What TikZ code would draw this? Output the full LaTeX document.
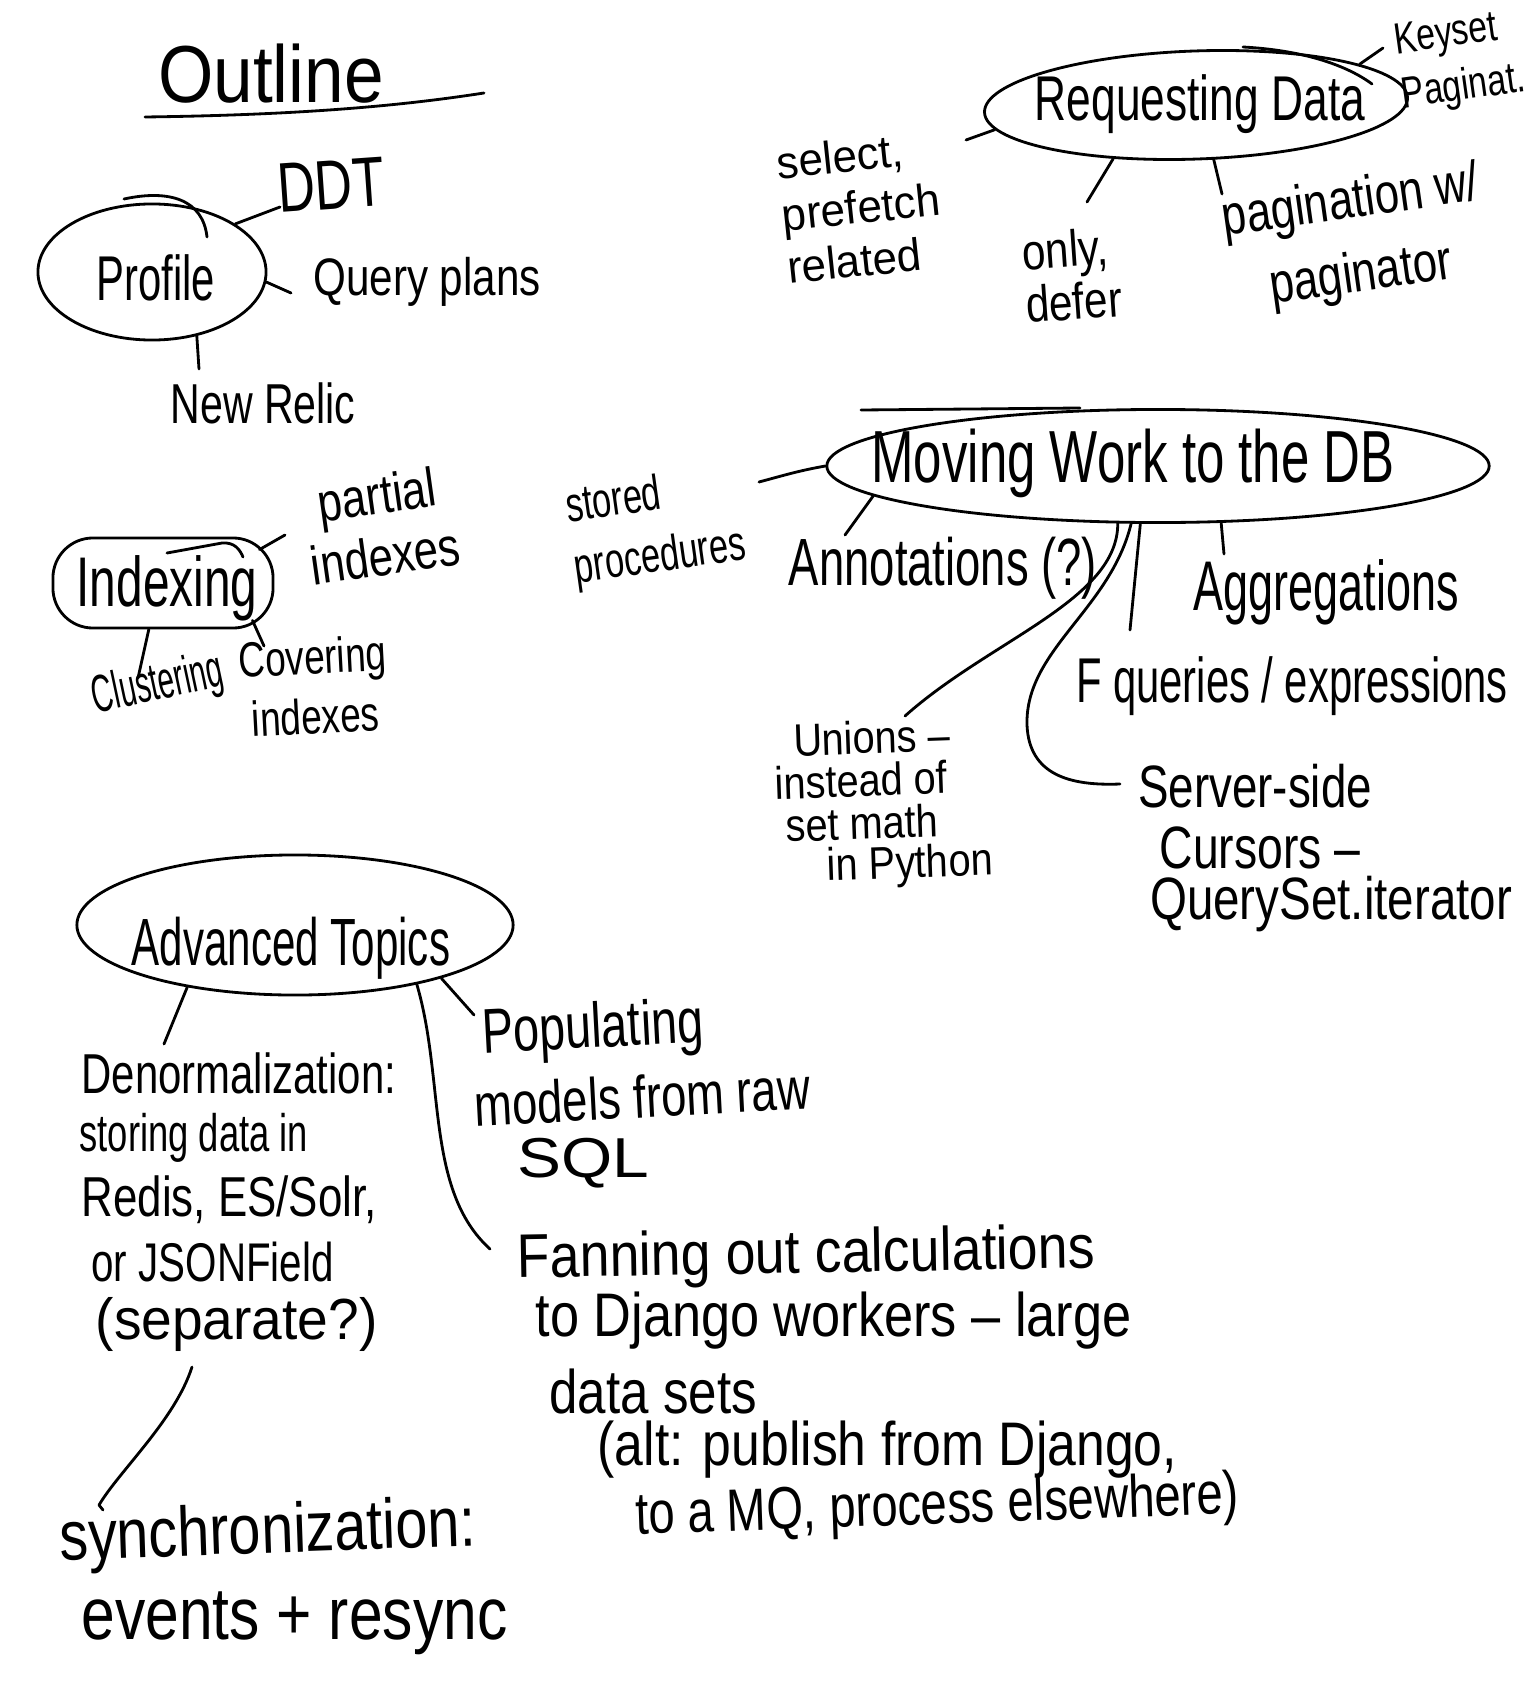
\documentclass[tikz,border=0pt]{standalone}
\usepackage{fontspec}
\setmainfont{Liberation Sans}
\usetikzlibrary{shapes.geometric,calc}
\newcommand\handsz[2]{\fontsize{#1}{#2}\selectfont}
\begin{document}
\begin{tikzpicture}[x=0.01cm,y=-0.01cm,
  ink/.style={line width=0.8pt, line cap=round, line join=round},
  oval/.style={ink, draw, ellipse, inner sep=0pt},
  txt/.style={inner sep=0pt},
]
\fill[white] (0,0) rectangle (1536,1688);
\useasboundingbox (0,0) rectangle (1536,1688);

% ---------- title ----------
\node[txt, font=\handsz{23}{23}, xscale=.88] (title) at (271,74) {Outline};
\draw[ink] (145,117) .. controls (300,115) and (400,106) .. (484,93);

% ---------- Profile ----------
\node[oval, minimum width=2.28cm, minimum height=1.36cm] (profOval) at (152,272) {};
\draw[ink] (124,199) .. controls (170,189) and (203,200) .. (207,237);
\node[txt, font=\handsz{18}{18}, xscale=.66] (profile) at (156,278) {Profile};

\node[txt, font=\handsz{20}{20}, rotate=4, xscale=.74] (ddt) at (331,185) {DDT};
\node[txt, font=\handsz{15}{15}, xscale=.8] (qplans) at (427,282) {Query plans};
\node[txt, font=\handsz{16}{16}, xscale=.73] (newrelic) at (263,403) {New Relic};

\coordinate (ddtEnd) at (280,207);
\coordinate (qpEnd) at (291,293);
\coordinate (nrEnd) at (199,369);
\draw[ink] (profOval.30) -- (ddtEnd);
\draw[ink] (profOval.-5) -- (qpEnd);
\draw[ink] (profOval.-55) -- (nrEnd);

% ---------- Requesting Data ----------
\node[oval, minimum width=4.23cm, minimum height=1.08cm, rotate=2] (reqOval) at (1196,105) {};
\draw[ink] (1243,47) .. controls (1300,50) and (1345,64) .. (1372,84);
\node[txt, font=\handsz{18}{18}, xscale=.70] (reqdata) at (1200,104) {Requesting Data};

\node[txt, align=left, font=\handsz{12.5}{15.5}, rotate=8, xscale=.77] (keyset) at (1460,62) {Keyset\\Paginat.};
\node[txt, align=left, font=\handsz{13}{15}, rotate=6, xscale=.96] (select) at (861,207) {select,\\prefetch\\related};
\node[txt, align=left, font=\handsz{14.5}{15}, rotate=4, xscale=.83] (onlydefer) at (1072,275) {only,\\defer};
\node[txt, align=center, font=\handsz{16}{21}, rotate=8, xscale=.78] (pagin) at (1356,240) {pagination w/\\paginator};

\coordinate (ksEnd) at (1383,48);
\coordinate (selEnd) at (966,140);
\coordinate (odEnd) at (1087,202);
\coordinate (pgEnd) at (1222,194);
\draw[ink] (reqOval.12) -- (ksEnd);
\draw[ink] (reqOval.185) -- (selEnd);
\draw[ink] (reqOval.211) -- (odEnd);
\draw[ink] (reqOval.286) -- (pgEnd);

% ---------- Indexing ----------
\node[ink, draw, rectangle, rounded corners=0.4cm, minimum width=2.2cm, minimum height=0.9cm, inner sep=0pt] (idxOval) at (163,583) {};
\draw[ink] (167,553) -- (222,543) .. controls (235,542) and (240,550) .. (243,557);
\node[txt, font=\handsz{20}{20}, xscale=.68] (indexing) at (167,588) {Indexing};

\node[txt, align=center, font=\handsz{15.5}{17.5}, rotate=8, xscale=.8] (partial) at (381,525) {partial\\indexes};
\node[txt, font=\handsz{15}{15}, rotate=12, xscale=.56] (clustering) at (158,686) {Clustering};
\node[txt, align=center, font=\handsz{14}{17}, rotate=3, xscale=.75] (covering) at (314,686) {Covering\\indexes};

\coordinate (ptEnd) at (285,535);
\coordinate (clEnd) at (138,678);
\coordinate (cvEnd) at (264,646);
\draw[ink] ($(idxOval.north east)+(-15,13)$) -- (ptEnd);
\draw[ink] (idxOval.253) -- (clEnd);
\draw[ink] ($(idxOval.south east)+(-22,-9)$) -- (cvEnd);

% ---------- Moving Work to the DB ----------
\node[oval, minimum width=6.62cm, minimum height=1.13cm] (mwOval) at (1158,466) {};
\draw[ink] (861,410) -- (1080,408);
\node[txt, font=\handsz{21}{21}, xscale=.69] (moving) at (1133,463) {Moving Work to the DB};

\node[txt, align=left, font=\handsz{14}{17.5}, rotate=8, xscale=.7] (stored) at (656,528) {stored\\procedures};
\node[txt, font=\handsz{19}{19}, xscale=.68] (annot) at (943,568) {Annotations (?)};
\node[txt, font=\handsz{20}{20}, xscale=.64] (aggr) at (1326,592) {Aggregations};
\node[txt, font=\handsz{18}{18}, xscale=.66] (fq) at (1292,686) {F queries / expressions};

\node[txt, font=\handsz{13}{13}, rotate=2, xscale=.87] (un1) at (872,737) {Unions --};
\node[txt, font=\handsz{13}{13}, rotate=2, xscale=.87] (un2) at (861,780) {instead of};
\node[txt, font=\handsz{13}{13}, rotate=2, xscale=.87] (un3) at (862,823) {set math};
\node[txt, font=\handsz{13}{13}, rotate=2, xscale=.87] (un4) at (910,866) {in Python};

\node[txt, font=\handsz{17}{17}, xscale=.765] (sv1) at (1255,786) {Server-side};
\node[txt, font=\handsz{17}{17}, xscale=.775] (sv2) at (1260,848) {Cursors --};
\node[txt, font=\handsz{17}{17}, xscale=.795] (sv3) at (1331,904) {QuerySet.iterator};

\coordinate (spEnd) at (759,482);
\coordinate (anEnd) at (845,535);
\coordinate (agEnd) at (1224,554);
\coordinate (fqEnd) at (1130,630);
\coordinate (unEnd) at (905,716);
\coordinate (svEnd) at (1120,784);
\draw[ink] (mwOval.west) to[out=190, in=15] (spEnd);
\draw[ink] (mwOval.186) -- (anEnd);
\draw[ink] (mwOval.318) -- (agEnd);
\draw[ink] (mwOval.253) -- (fqEnd);
\draw[ink] (mwOval.235) .. controls (1118,600) and (990,640) .. (unEnd);
\draw[ink] (mwOval.245) .. controls (1110,610) and (1025,650) .. (1027,725)
           .. controls (1029,775) and (1070,786) .. (svEnd);

% ---------- Advanced Topics ----------
\node[oval, minimum width=4.36cm, minimum height=1.40cm] (atOval) at (295,925) {};
\node[txt, font=\handsz{19}{19}, xscale=.63] (adv) at (291,948) {Advanced Topics};

\node[txt, anchor=west, font=\handsz{16}{16}, xscale=.745] (dn1) at (81,1073) {Denormalization:};
\node[txt, anchor=west, font=\handsz{15}{15}, xscale=.69] (dn2) at (79,1138) {storing data in};
\node[txt, anchor=west, font=\handsz{16}{16}, xscale=.78] (dn3) at (81,1200) {Redis, ES/Solr,};
\node[txt, anchor=west, font=\handsz{15.5}{15.5}, xscale=.74] (dn4) at (91,1262) {or JSONField};
\node[txt, anchor=west, font=\handsz{16.5}{16.5}, xscale=.95] (dn5) at (95,1324) {(separate?)};

\node[txt, anchor=west, font=\handsz{18}{18}, rotate=3, xscale=.74] (pop1) at (482,1037) {Populating};
\node[txt, anchor=west, font=\handsz{17}{17}, rotate=3, xscale=.76] (pop2) at (474,1105) {models from raw};
\node[txt, anchor=west, font=\handsz{16}{16}, xscale=1.17] (pop3) at (517,1163) {SQL};

\node[txt, anchor=west, font=\handsz{17.5}{17.5}, rotate=1, xscale=.87] (fan1) at (517,1262) {Fanning out calculations};
\node[txt, anchor=west, font=\handsz{17.5}{17.5}, xscale=.85] (fan2) at (535,1321) {to Django workers -- large};
\node[txt, anchor=west, font=\handsz{17.5}{17.5}, xscale=.83] (fan3) at (549,1391) {data sets};
\node[txt, anchor=west, font=\handsz{17.5}{17.5}, xscale=.84] (fan4) at (597,1450) {(alt: publish from Django,};
\node[txt, anchor=west, font=\handsz{17}{17}, rotate=2, xscale=.79] (fan5) at (635,1519) {to a MQ, process elsewhere)};

\node[txt, anchor=west, font=\handsz{20}{20}, rotate=2, xscale=.82] (sync1) at (59,1542) {synchronization:};
\node[txt, anchor=west, font=\handsz{21}{21}, xscale=.82] (sync2) at (81,1623) {events + resync};

\coordinate (dnEnd) at (164,1044);
\coordinate (popEnd) at (474,1015);
\coordinate (fanEnd) at (490,1249);
\coordinate (syTop) at (192,1367);
\coordinate (syBot) at (99,1505);
\draw[ink] (atOval.210) -- (dnEnd);
\draw[ink] (atOval.-20) -- (popEnd);
\draw[ink] (atOval.-26) .. controls (445,1080) and (425,1190) .. (fanEnd);
\draw[ink] (syTop) .. controls (175,1420) and (120,1470) .. (syBot) -- ++(4,5);
\end{tikzpicture}
\end{document}
